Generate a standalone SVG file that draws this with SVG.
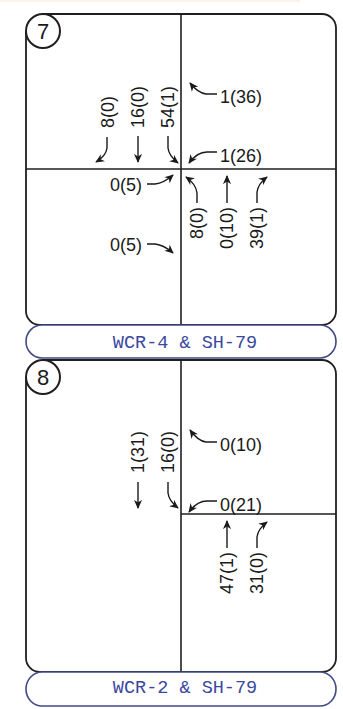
<svg xmlns="http://www.w3.org/2000/svg" width="343" height="709" viewBox="0 0 343 709">
<defs>
<marker id="ah" viewBox="0 0 10 10" refX="9" refY="5" markerWidth="9" markerHeight="9" markerUnits="userSpaceOnUse" orient="auto">
<path d="M0,0.5 L10,5 L0,9.5 L3,5 z" fill="#1a1a1a"/>
</marker>
<style>
.frame{fill:none;stroke:#1f1f1f;stroke-width:1.8}
.div{fill:none;stroke:#1f1f1f;stroke-width:1.6}
.pill{fill:#ffffff;stroke:#3f4a86;stroke-width:1.6}
.badge{fill:#ffffff;stroke:#1f1f1f;stroke-width:2}
.badgeT{font-family:"Liberation Sans",Arial,sans-serif;font-size:22px;fill:#1a1a1a;text-anchor:middle}
.num{font-family:"Liberation Sans",Arial,sans-serif;font-size:18px;fill:#1a1a1a}
.road{font-family:"Liberation Mono","DejaVu Sans Mono",monospace;font-size:18.5px;fill:#3a48a0;text-anchor:middle}
.arr{fill:none;stroke:#1a1a1a;stroke-width:1.4;marker-end:url(#ah)}
</style>
</defs>
<rect x="0" y="0" width="343" height="709" fill="#ffffff"/>
<rect x="0" y="0" width="300" height="2" fill="#fcf4e8"/>

<g id="panel7">
<path class="frame" d="M43,14 H322 A14,14 0 0 1 336,28 V311 A14,14 0 0 1 322,325 H40 A14,14 0 0 1 26,311 V31"/>
<line class="div" x1="181" y1="14" x2="181" y2="325"/>
<line class="div" x1="26" y1="169" x2="336" y2="169"/>
<circle class="badge" cx="43" cy="31" r="17"/>
<text class="badgeT" x="43" y="39">7</text>
</g>
<g id="label7">
<rect class="pill" x="26" y="325" width="310" height="33" rx="16" ry="16.5"/>
<text class="road" x="185" y="348">WCR-4 &amp; SH-79</text>
</g>

<g id="panel8">
<path class="frame" d="M43,360 H322 A14,14 0 0 1 336,374 V658 A14,14 0 0 1 322,672 H40 A14,14 0 0 1 26,658 V377"/>
<line class="div" x1="181" y1="360" x2="181" y2="672"/>
<line class="div" x1="181" y1="514" x2="336" y2="514"/>
<circle class="badge" cx="43" cy="377" r="17"/>
<text class="badgeT" x="43" y="385">8</text>
</g>
<g id="label8">
<rect class="pill" x="26" y="672" width="310" height="34" rx="16" ry="17"/>
<text class="road" x="185" y="693">WCR-2 &amp; SH-79</text>
</g>

<g id="counts7">
<text class="num" x="220" y="103">1(36)</text>
<text class="num" x="220" y="162">1(26)</text>
<text class="num" transform="translate(114,128) rotate(-90)">8(0)</text>
<text class="num" transform="translate(144,128) rotate(-90)">16(0)</text>
<text class="num" transform="translate(174,128) rotate(-90)">54(1)</text>
<text class="num" x="110" y="191">0(5)</text>
<text class="num" x="110" y="251">0(5)</text>
<text class="num" text-anchor="end" transform="translate(203,207) rotate(-90)">8(0)</text>
<text class="num" text-anchor="end" transform="translate(233,207) rotate(-90)">0(10)</text>
<text class="num" text-anchor="end" transform="translate(263,207) rotate(-90)">39(1)</text>
</g>
<g id="counts8">
<text class="num" x="220" y="451">0(10)</text>
<text class="num" x="220" y="511">0(21)</text>
<text class="num" transform="translate(144,473) rotate(-90)">1(31)</text>
<text class="num" transform="translate(174,473) rotate(-90)">16(0)</text>
<text class="num" text-anchor="end" transform="translate(233,552) rotate(-90)">47(1)</text>
<text class="num" text-anchor="end" transform="translate(263,552) rotate(-90)">31(0)</text>
</g>

<g id="connectors">
<path class="arr" d="M217,94 L206,94 Q198,93 190,83"/>
<path class="arr" d="M217,152 L207,152 Q197,152 189,163"/>
<path class="arr" d="M107,137 L107,148 Q106,156 96,162"/>
<path class="arr" d="M138,136 L138,162"/>
<path class="arr" d="M168,136 L168,148 Q169,156 178,163"/>
<path class="arr" d="M147,184 L155,184 Q164,183 173,175"/>
<path class="arr" d="M147,244 L155,244 Q164,245 173,253"/>
<path class="arr" d="M197,203 L197,193 Q196,184 186,177"/>
<path class="arr" d="M227,203 L227,176"/>
<path class="arr" d="M257,203 L257,192 Q258,184 267,177"/>
<path class="arr" d="M217,442 L206,442 Q198,441 190,430"/>
<path class="arr" d="M217,501 L207,501 Q197,501 189,512"/>
<path class="arr" d="M138,482 L138,508"/>
<path class="arr" d="M168,482 L168,493 Q169,501 178,508"/>
<path class="arr" d="M227,548 L227,521"/>
<path class="arr" d="M257,548 L257,537 Q258,529 267,522"/>
</g>
</svg>
